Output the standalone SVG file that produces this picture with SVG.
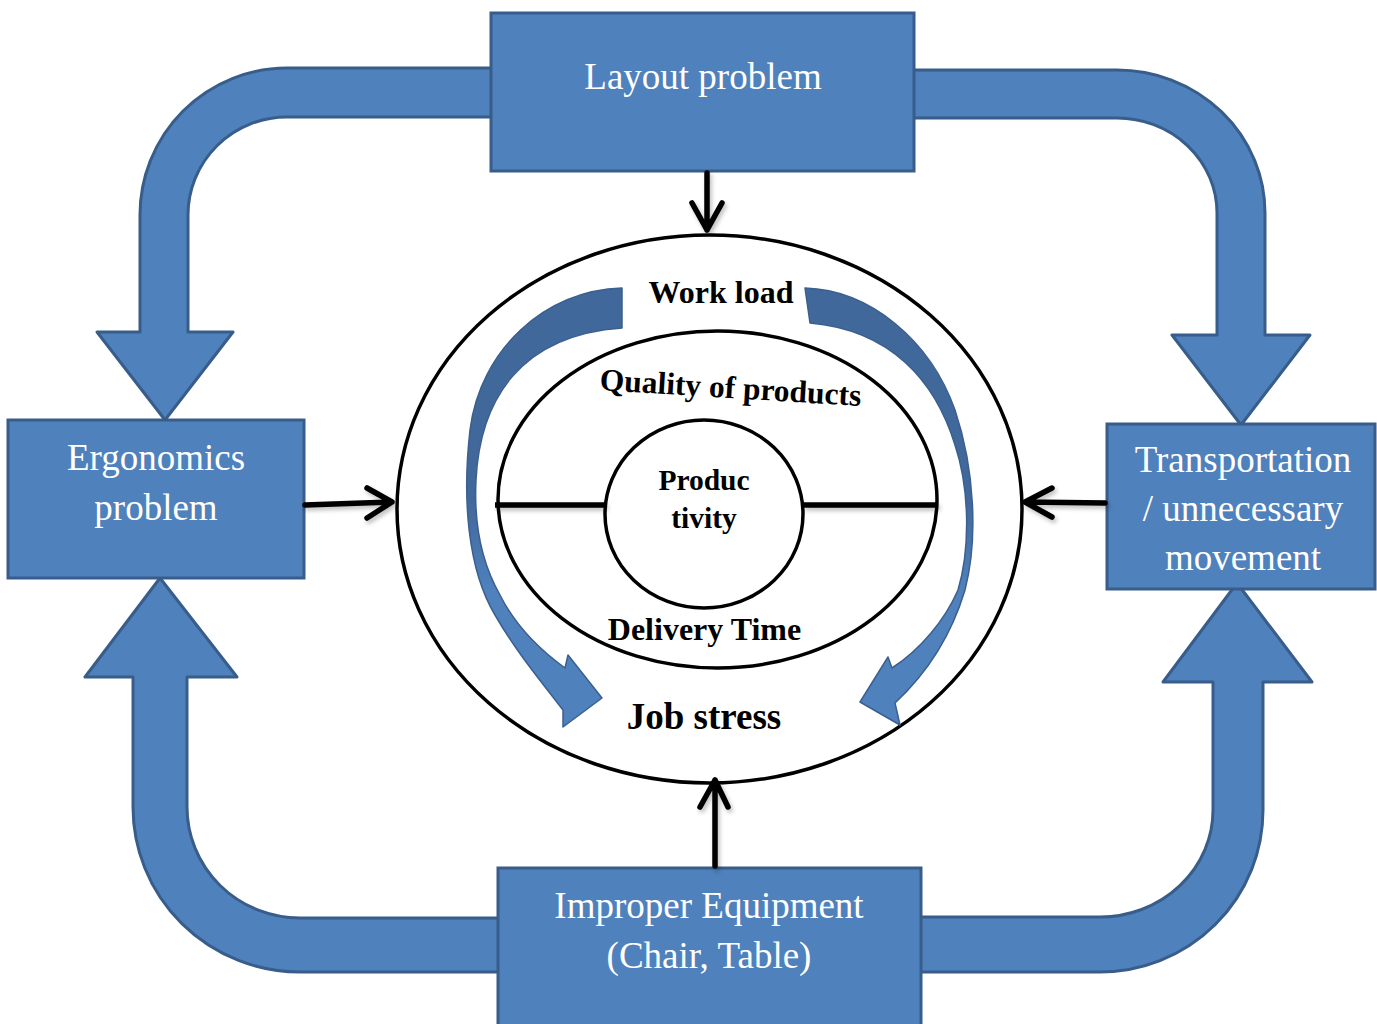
<svg xmlns="http://www.w3.org/2000/svg" width="1377" height="1024" viewBox="0 0 1377 1024">
<defs>
<style>
.blk{fill:#4f81bd;stroke:#385d8a;stroke-width:3;stroke-linejoin:round}
.box{fill:#4f81bd;stroke:#385d8a;stroke-width:3}
.btxt{font-family:"Liberation Serif","Times New Roman",serif;font-size:37px;fill:#ffffff;text-anchor:middle}
.ctxt{font-family:"Liberation Serif","Times New Roman",serif;font-weight:bold;fill:#000000;text-anchor:middle}
.ring{fill:none;stroke:#000;stroke-width:3.5}
.conn{fill:none;stroke:#000;stroke-width:5.5;stroke-linecap:round;stroke-linejoin:round}
.carrow{fill:url(#cg);stroke:#3b5f8e;stroke-width:1.5;stroke-linejoin:round}
</style>
<linearGradient id="cg" gradientUnits="userSpaceOnUse" x1="0" y1="500" x2="0" y2="590">
<stop offset="0" stop-color="#41689b"/>
<stop offset="1" stop-color="#4f81bd"/>
</linearGradient>
<filter id="sh" filterUnits="userSpaceOnUse" x="0" y="0" width="1377" height="1024">
<feDropShadow dx="2" dy="3" stdDeviation="2" flood-color="#000" flood-opacity="0.25"/>
</filter>
</defs>

<g id="bent-arrows">
<path class="blk" d="M 493,68 L 287,68 A 147,147 0 0 0 140,215 L 140,332 L 97,332 L 165,420 L 233,332 L 188,332 L 188,215 A 99,98 0 0 1 287,117 L 493,117 Z"/>
<path class="blk" d="M 912,70 L 1117,70 A 148,143 0 0 1 1265,213 L 1265,335 L 1310,335 L 1241,425 L 1172,335 L 1217,335 L 1217,213 A 100,95 0 0 0 1117,118 L 912,118 Z"/>
<path class="blk" d="M 500,918 L 300,918 A 113,111 0 0 1 187,807 L 187,677 L 237,677 L 160,578 L 85,677 L 133,677 L 133,807 A 167,165 0 0 0 300,972 L 500,972 Z"/>
<path class="blk" d="M 920,917 L 1100,917 A 113,107 0 0 0 1213,810 L 1213,682 L 1163,682 L 1237,583 L 1312,682 L 1263,682 L 1263,810 A 163,162 0 0 1 1100,972 L 920,972 Z"/>
</g>

<g id="node-layout">
<rect class="box" x="491" y="13" width="423" height="158"/>
<text class="btxt" x="703" y="89">Layout problem</text>
</g>
<g id="node-ergonomics">
<rect class="box" x="8" y="420" width="296" height="158"/>
<text class="btxt" x="156" y="470">Ergonomics</text>
<text class="btxt" x="156" y="520">problem</text>
</g>
<g id="node-transport">
<rect class="box" x="1107" y="424" width="268" height="165"/>
<text class="btxt" x="1243" y="472">Transportation</text>
<text class="btxt" x="1243" y="521">/ unnecessary</text>
<text class="btxt" x="1243" y="570">movement</text>
</g>
<g id="node-equipment">
<rect class="box" x="498" y="868" width="423" height="170"/>
<text class="btxt" x="709" y="918">Improper Equipment</text>
<text class="btxt" x="709" y="968">(Chair, Table)</text>
</g>

<g id="node-center">
<ellipse class="ring" cx="709.5" cy="509" rx="312.5" ry="274" fill="#fff"/>
<ellipse class="ring" cx="717.5" cy="499.5" rx="219.5" ry="168.5"/>
<ellipse class="ring" cx="704" cy="514" rx="99" ry="94"/>
<g filter="url(#sh)">
<line x1="495" y1="505" x2="606" y2="505" stroke="#000" stroke-width="5.5"/>
<line x1="803" y1="505" x2="938" y2="505" stroke="#000" stroke-width="5.5"/>
</g>
<path class="carrow" d="M 622,288 C 545,290 480,350 470,430 C 462,500 468,570 495,615 C 515,650 540,680 563,710 L 563,727 L 602,698 L 568,655 L 565,668 C 540,650 515,625 500,595 C 480,560 474,520 476,480 C 480,400 520,335 622,328 Z"/>
<path class="carrow" d="M 805,288 C 870,290 930,340 955,410 C 975,470 978,540 965,590 C 950,640 925,675 895,703 L 900,725 L 860,702 L 888,657 L 892,668 C 920,650 945,620 958,590 C 970,550 970,490 955,445 C 935,380 890,330 810,323 Z"/>
<text class="ctxt" x="721" y="303" font-size="32">Work load</text>
<text class="ctxt" x="730" y="398" font-size="31.5" transform="rotate(3.5 730 398)">Quality of products</text>
<text class="ctxt" x="704" y="490" font-size="29.5">Produc</text>
<text class="ctxt" x="704" y="528" font-size="29.5">tivity</text>
<text class="ctxt" x="704.5" y="640" font-size="32">Delivery Time</text>
<text class="ctxt" x="704" y="729" font-size="37">Job stress</text>
</g>

<g id="connectors" filter="url(#sh)">
<path class="conn" d="M 707,173 L 707,230 M 692,203 L 707,230 L 722,203"/>
<path class="conn" d="M 715,866 L 715,780 M 700,807 L 715,780 L 728,807"/>
<path class="conn" d="M 305,505 L 392,502 M 367,488 L 392,502 L 367,518"/>
<path class="conn" d="M 1105,503 L 1025,502 M 1052,488 L 1025,502 L 1052,517"/>
</g>
</svg>
